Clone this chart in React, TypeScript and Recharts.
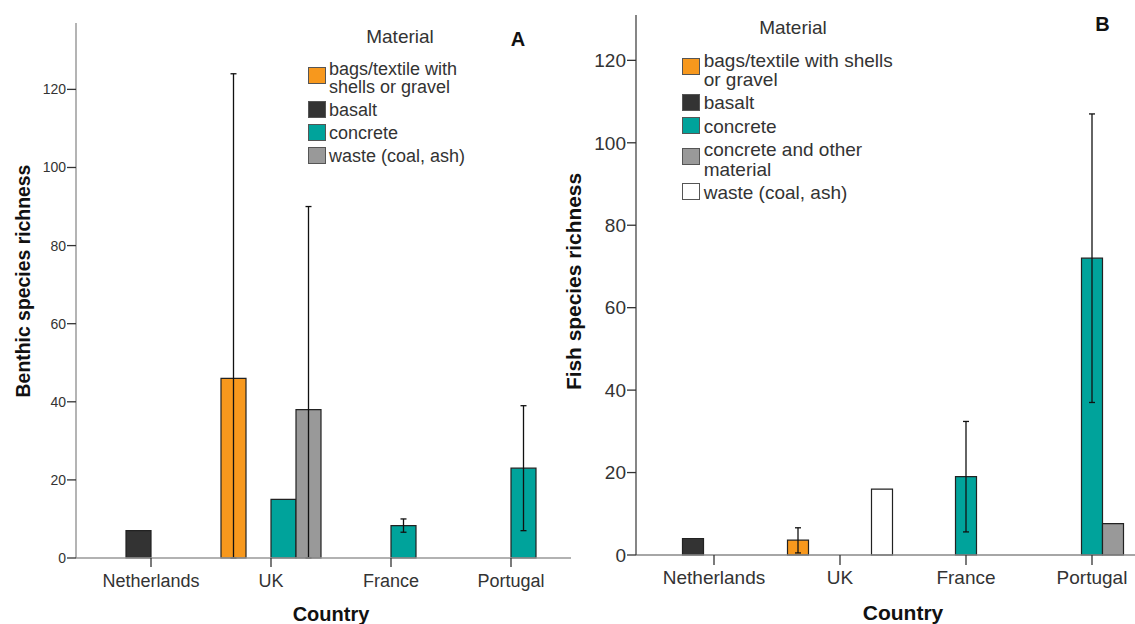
import React from 'react';
import { BarChart, Bar, XAxis, YAxis, ErrorBar, Legend, Label } from 'recharts';

const FONT = '"Liberation Sans", Arial, sans-serif';

// ---------- shared ----------
const COUNTRIES = ['Netherlands', 'UK', 'France', 'Portugal'];

// ---------- Panel A: benthic species richness ----------
const MATERIALS_A = ['bags/textile with shells or gravel', 'basalt', 'concrete', 'waste (coal, ash)'];
const LEGEND_LINES_A = [['bags/textile with', 'shells or gravel'], ['basalt'], ['concrete'], ['waste (coal, ash)']];
const COLORS_A = ['#F7981D', '#333333', '#00A39B', '#999999'];
const BENTHIC_BAGS = [null, 46, null, null];
const BENTHIC_BAGS_ERR = [null, [46, 78], null, null];
const BENTHIC_BASALT = [7, null, null, null];
const BENTHIC_CONCRETE = [null, 15, 8.3, 23];
const BENTHIC_CONCRETE_ERR = [null, null, [1.7, 1.7], [16, 16]];
const BENTHIC_WASTE = [null, 38, null, null];
const BENTHIC_WASTE_ERR = [null, [38, 52], null, null];
const TICKS_A = [0, 20, 40, 60, 80, 100, 120];
const DOMAIN_A = [0, 137];

// ---------- Panel B: fish species richness ----------
const MATERIALS_B = ['bags/textile with shells or gravel', 'basalt', 'concrete', 'concrete and other material', 'waste (coal, ash)'];
const LEGEND_LINES_B = [['bags/textile with shells', 'or gravel'], ['basalt'], ['concrete'], ['concrete and other', 'material'], ['waste (coal, ash)']];
const COLORS_B = ['#F7981D', '#333333', '#00A39B', '#999999', '#FFFFFF'];
const FISH_BAGS = [null, 3.6, null, null];
const FISH_BAGS_ERR = [null, [3.1, 3.0], null, null];
const FISH_BASALT = [4, null, null, null];
const FISH_CONCRETE = [null, null, 19, 72];
const FISH_CONCRETE_ERR = [null, null, [13.4, 13.4], [35, 35]];
const FISH_CONC_OTHER = [null, null, null, 7.6];
const FISH_WASTE = [null, 16, null, null];
const TICKS_B = [0, 20, 40, 60, 80, 100, 120];
const DOMAIN_B = [0, 131];

const dataA = COUNTRIES.map((country, i) => ({
  country,
  bags: BENTHIC_BAGS[i],
  bagsErr: BENTHIC_BAGS_ERR[i],
  basalt: BENTHIC_BASALT[i],
  concrete: BENTHIC_CONCRETE[i],
  concreteErr: BENTHIC_CONCRETE_ERR[i],
  waste: BENTHIC_WASTE[i],
  wasteErr: BENTHIC_WASTE_ERR[i],
}));

const dataB = COUNTRIES.map((country, i) => ({
  country,
  bags: FISH_BAGS[i],
  bagsErr: FISH_BAGS_ERR[i],
  basalt: FISH_BASALT[i],
  concrete: FISH_CONCRETE[i],
  concreteErr: FISH_CONCRETE_ERR[i],
  concOther: FISH_CONC_OTHER[i],
  waste: FISH_WASTE[i],
}));

type LegendCfg = {
  names: string[];
  lines: string[][];
  colors: string[];
  titleCx: number;
  titleTop: number;
  titleSize: number;
  firstTop: number;
  fontSize: number;
  lineH: number;
  gap: number;
  dblOff: number;
  sglOff: number;
  textGap: number;
};

const makeLegend = (cfg: LegendCfg) => (props: any) => {
  const payload = props.payload || [];
  return (
    <div style={{ position: 'relative', fontFamily: FONT, color: '#333' }}>
      <div
        style={{
          position: 'absolute',
          left: cfg.titleCx - 60,
          width: 120,
          top: cfg.titleTop,
          textAlign: 'center',
          fontSize: cfg.titleSize,
          lineHeight: '20px',
        }}
      >
        Material
      </div>
      <div style={{ position: 'absolute', left: 0, top: cfg.firstTop }}>
        {payload.map((entry: any, i: number) => {
          const idx = cfg.names.indexOf(entry.value);
          const lines = idx >= 0 ? cfg.lines[idx] : [String(entry.value)];
          const color = entry.color || (idx >= 0 ? cfg.colors[idx] : '#ccc');
          return (
            <div key={i} style={{ display: 'flex', alignItems: 'flex-start', marginBottom: cfg.gap }}>
              <div
                style={{
                  width: 18,
                  height: 17,
                  boxSizing: 'border-box',
                  border: '1.5px solid #555',
                  background: color,
                  marginTop: lines.length > 1 ? cfg.dblOff : cfg.sglOff,
                  marginRight: cfg.textGap,
                  flexShrink: 0,
                }}
              />
              <div style={{ fontSize: cfg.fontSize, lineHeight: cfg.lineH + 'px', whiteSpace: 'nowrap' }}>
                {lines.map((l, j) => (
                  <React.Fragment key={j}>
                    {j > 0 ? <br /> : null}
                    {l}
                  </React.Fragment>
                ))}
              </div>
            </div>
          );
        })}
      </div>
    </div>
  );
};

const yTitle = (text: string, dx: number, dyFromCenter: number, size: number) => (props: any) => {
  const vb = props.viewBox || { x: 0, y: 0, width: 0, height: 0 };
  const x = vb.x + dx;
  const y = vb.y + vb.height / 2 + dyFromCenter;
  return (
    <text
      x={x}
      y={y}
      transform={`rotate(-90, ${x}, ${y})`}
      textAnchor="middle"
      dominantBaseline="central"
      fontFamily={FONT}
      fontWeight="bold"
      fontSize={size}
      fill="#111"
    >
      {text}
    </text>
  );
};

const xTitle = (text: string, padLeft: number, baselineOffset: number, size: number) => (props: any) => {
  const vb = props.viewBox || { x: 0, y: 0, width: 0, height: 0 };
  const x = vb.x + padLeft + (vb.width - padLeft) / 2;
  const y = vb.y + baselineOffset;
  return (
    <text x={x} y={y} textAnchor="middle" fontFamily={FONT} fontWeight="bold" fontSize={size} fill="#111">
      {text}
    </text>
  );
};

const legendA = makeLegend({
  names: MATERIALS_A,
  lines: LEGEND_LINES_A,
  colors: COLORS_A,
  titleCx: 92,
  titleTop: 26.7,
  titleSize: 19,
  firstTop: 59.5,
  fontSize: 18,
  lineH: 18.6,
  gap: 4.3,
  dblOff: 7.2,
  sglOff: 0.3,
  textGap: 3,
});

const legendB = makeLegend({
  names: MATERIALS_B,
  lines: LEGEND_LINES_B,
  colors: COLORS_B,
  titleCx: 111.3,
  titleTop: 17.7,
  titleSize: 19,
  firstTop: 50.5,
  fontSize: 19,
  lineH: 19.2,
  gap: 4.35,
  dblOff: 7.6,
  sglOff: 0.3,
  textGap: 4,
});

const BAR_STROKE = '#222';

function ChartA() {
  return (
    <BarChart
      width={575}
      height={624}
      data={dataA}
      margin={{ top: 23, right: 4, bottom: 0, left: 0 }}
      barCategoryGap={10}
      barGap={0}
    >
      <XAxis
        dataKey="country"
        height={66}
        padding={{ left: 15, right: 0 }}
        interval={0}
        axisLine={{ stroke: '#999', strokeWidth: 1.3 }}
        tickLine={{ stroke: '#333', strokeWidth: 1.3 }}
        tickSize={9}
        tickMargin={7}
        tick={{ fontSize: 18, fill: '#333', fontFamily: FONT }}
      >
        <Label content={xTitle('Country', 15, 63, 20)} />
      </XAxis>
      <YAxis
        width={76}
        domain={DOMAIN_A}
        ticks={TICKS_A}
        interval={0}
        axisLine={{ stroke: '#8c8c8c', strokeWidth: 1.3 }}
        tickLine={{ stroke: '#333', strokeWidth: 1.3 }}
        tickSize={9}
        tickMargin={1}
        tick={{ fontSize: 14, fill: '#333', fontFamily: FONT }}
      >
        <Label content={yTitle('Benthic species richness', 23, -9.5, 19.4)} />
      </YAxis>
      <Legend
        layout="vertical"
        align="center"
        verticalAlign="middle"
        content={legendA}
        wrapperStyle={{ position: 'absolute', left: 308, top: 0, width: 240, height: 180 }}
      />
      <Bar dataKey="bags" name={MATERIALS_A[0]} fill={COLORS_A[0]} stroke={BAR_STROKE} strokeWidth={1.2} isAnimationActive={false}>
        <ErrorBar dataKey="bagsErr" width={3} stroke="#111" strokeWidth={1.3} />
      </Bar>
      <Bar dataKey="basalt" name={MATERIALS_A[1]} fill={COLORS_A[1]} stroke={BAR_STROKE} strokeWidth={1.2} isAnimationActive={false} />
      <Bar dataKey="concrete" name={MATERIALS_A[2]} fill={COLORS_A[2]} stroke={BAR_STROKE} strokeWidth={1.2} isAnimationActive={false}>
        <ErrorBar dataKey="concreteErr" width={3} stroke="#111" strokeWidth={1.3} />
      </Bar>
      <Bar dataKey="waste" name={MATERIALS_A[3]} fill={COLORS_A[3]} stroke={BAR_STROKE} strokeWidth={1.2} isAnimationActive={false}>
        <ErrorBar dataKey="wasteErr" width={3} stroke="#111" strokeWidth={1.3} />
      </Bar>
    </BarChart>
  );
}

function ChartB() {
  return (
    <BarChart
      width={595}
      height={624}
      data={dataB}
      margin={{ top: 15, right: 0, bottom: 0, left: 0 }}
      barCategoryGap={10.5}
      barGap={0}
    >
      <XAxis
        dataKey="country"
        height={69}
        padding={{ left: 15, right: 0 }}
        interval={0}
        axisLine={{ stroke: '#888', strokeWidth: 1.3 }}
        tickLine={{ stroke: '#333', strokeWidth: 1.3 }}
        tickSize={10}
        tickMargin={6}
        tick={{ fontSize: 19, fill: '#333', fontFamily: FONT }}
      >
        <Label content={xTitle('Country', 15, 65, 21)} />
      </XAxis>
      <YAxis
        width={76}
        domain={DOMAIN_B}
        ticks={TICKS_B}
        interval={0}
        axisLine={{ stroke: '#444', strokeWidth: 1.3 }}
        tickLine={{ stroke: '#333', strokeWidth: 1.3 }}
        tickSize={9}
        tickMargin={1}
        tick={{ fontSize: 19, fill: '#333', fontFamily: FONT }}
      >
        <Label content={yTitle('Fish species richness', 13, -3.5, 20.9)} />
      </YAxis>
      <Legend
        layout="vertical"
        align="center"
        verticalAlign="middle"
        content={legendB}
        wrapperStyle={{ position: 'absolute', left: 121.7, top: 0, width: 280, height: 220 }}
      />
      <Bar dataKey="bags" name={MATERIALS_B[0]} fill={COLORS_B[0]} stroke={BAR_STROKE} strokeWidth={1.2} isAnimationActive={false}>
        <ErrorBar dataKey="bagsErr" width={3} stroke="#111" strokeWidth={1.3} />
      </Bar>
      <Bar dataKey="basalt" name={MATERIALS_B[1]} fill={COLORS_B[1]} stroke={BAR_STROKE} strokeWidth={1.2} isAnimationActive={false} />
      <Bar dataKey="concrete" name={MATERIALS_B[2]} fill={COLORS_B[2]} stroke={BAR_STROKE} strokeWidth={1.2} isAnimationActive={false}>
        <ErrorBar dataKey="concreteErr" width={3} stroke="#111" strokeWidth={1.3} />
      </Bar>
      <Bar dataKey="concOther" name={MATERIALS_B[3]} fill={COLORS_B[3]} stroke={BAR_STROKE} strokeWidth={1.2} isAnimationActive={false} />
      <Bar dataKey="waste" name={MATERIALS_B[4]} fill={COLORS_B[4]} stroke={BAR_STROKE} strokeWidth={1.2} isAnimationActive={false} />
    </BarChart>
  );
}

export default function App() {
  return (
    <div
      style={{
        position: 'absolute',
        left: 0,
        top: 0,
        width: 1135,
        height: 624,
        overflow: 'hidden',
        background: '#fff',
        fontFamily: FONT,
      }}
    >
      <div style={{ position: 'absolute', left: 0, top: 0 }}>
        <ChartA />
      </div>
      <div style={{ position: 'absolute', left: 560, top: 0 }}>
        <ChartB />
      </div>
      <div
        style={{
          position: 'absolute',
          left: 498,
          top: 29,
          width: 40,
          textAlign: 'center',
          fontSize: 20,
          lineHeight: '20px',
          fontWeight: 'bold',
          color: '#111',
        }}
      >
        A
      </div>
      <div
        style={{
          position: 'absolute',
          left: 1082.5,
          top: 14,
          width: 40,
          textAlign: 'center',
          fontSize: 20,
          lineHeight: '20px',
          fontWeight: 'bold',
          color: '#111',
        }}
      >
        B
      </div>
    </div>
  );
}
